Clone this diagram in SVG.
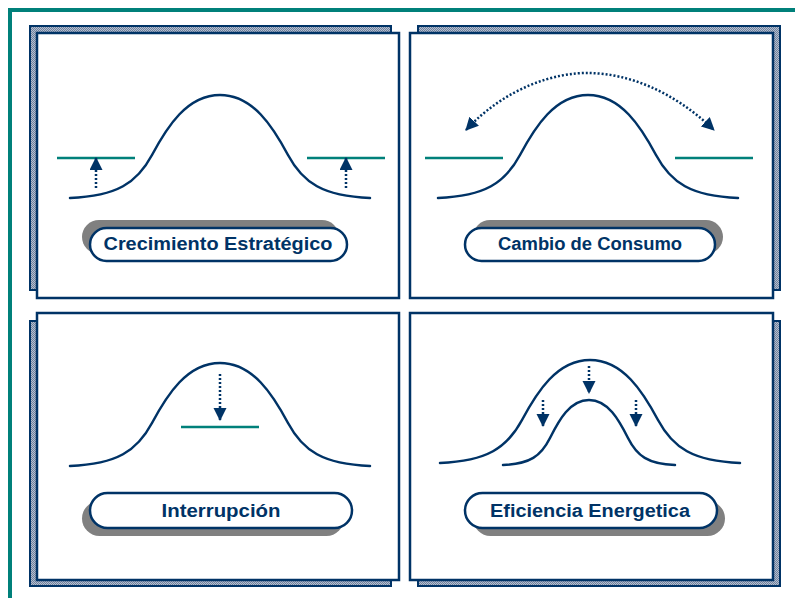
<svg xmlns="http://www.w3.org/2000/svg" width="795" height="598" viewBox="0 0 795 598">
<style>
.frame{fill:none;stroke:#00807A;stroke-width:4}
.shadow{fill:url(#hatch);stroke:#003366;stroke-width:2}
.front{fill:#ffffff;stroke:#003366;stroke-width:2.5}
.curve{fill:none;stroke:#003366;stroke-width:2.5;stroke-linecap:round}
.level{fill:none;stroke:#00807A;stroke-width:2.5}
.dot{fill:none;stroke:#003366;stroke-width:2.5;stroke-dasharray:2 2}
.pillsh{fill:#808080}
.pill{fill:#ffffff;stroke:#003366;stroke-width:2.5}
.lbl{font-family:"Liberation Sans","DejaVu Sans",sans-serif;font-size:18px;font-weight:bold;fill:#003366;text-anchor:middle}
</style>
<defs>
<pattern id="hatch" width="2" height="2" patternUnits="userSpaceOnUse">
<rect width="2" height="2" fill="#b4bfcf"/>
<rect width="1" height="1" fill="#6f819e"/>
<rect x="1" y="1" width="1" height="1" fill="#6f819e"/>
</pattern>
<path id="bell" d="M-150,103 C-103,101 -83,88 -68,60 C-53,32 -33,0 0,0 C33,0 53,32 68,60 C83,88 103,101 150,103"/>
<marker id="ah" markerUnits="userSpaceOnUse" markerWidth="14" markerHeight="14" refX="12" refY="6.5" orient="auto-start-reverse">
<path d="M0,0 L13,6.5 L0,13 z" fill="#003366"/>
</marker>
</defs>
<path class="frame" d="M10,598 L10,10 L795,10"/>

<g id="panel-crecimiento">
<rect class="shadow" x="30" y="26" width="361" height="264"/>
<rect class="front" x="37" y="33" width="362" height="265"/>
<use href="#bell" class="curve" transform="translate(220,95)"/>
<line class="level" x1="57" y1="158" x2="135" y2="158"/>
<line class="level" x1="307" y1="158" x2="385" y2="158"/>
<rect class="pillsh" x="82" y="220" width="257" height="34" rx="17"/>
<rect class="pill" x="90" y="228" width="257" height="33" rx="16.5"/>
<text class="lbl" x="218" y="250" textLength="229" lengthAdjust="spacingAndGlyphs">Crecimiento Estratégico</text>
</g>

<g id="panel-cambio">
<rect class="shadow" x="418" y="26" width="362" height="264"/>
<rect class="front" x="410" y="33" width="363" height="265"/>
<use href="#bell" class="curve" transform="translate(588,95)"/>
<line class="level" x1="425" y1="158" x2="503" y2="158"/>
<line class="level" x1="675" y1="158" x2="753" y2="158"/>
<rect class="pillsh" x="473" y="220" width="250" height="34" rx="17"/>
<rect class="pill" x="465" y="228" width="250" height="33" rx="16.5"/>
<text class="lbl" x="590" y="250" textLength="184" lengthAdjust="spacingAndGlyphs">Cambio de Consumo</text>
</g>

<g id="panel-interrupcion">
<rect class="shadow" x="30" y="321" width="361" height="265"/>
<rect class="front" x="37" y="313" width="362" height="267"/>
<use href="#bell" class="curve" transform="translate(220,363)"/>
<line class="level" x1="181" y1="427" x2="259" y2="427"/>
<rect class="pillsh" x="82" y="501" width="262" height="35" rx="17.5"/>
<rect class="pill" x="90" y="493" width="262" height="35" rx="17.5"/>
<text class="lbl" x="221" y="517" textLength="119" lengthAdjust="spacingAndGlyphs">Interrupción</text>
</g>

<g id="panel-eficiencia">
<rect class="shadow" x="418" y="321" width="362" height="265"/>
<rect class="front" x="410" y="313" width="363" height="267"/>
<use href="#bell" class="curve" transform="translate(590,360)"/>
<path class="curve" d="M503,465 C530,464 541,456 550,438 C559,420 570,400 589,400 C608,400 619,420 628,438 C637,456 648,464 675,465"/>
<rect class="pillsh" x="473" y="501" width="252" height="35" rx="17.5"/>
<rect class="pill" x="465" y="493" width="252" height="35" rx="17.5"/>
<text class="lbl" x="590" y="517" textLength="200" lengthAdjust="spacingAndGlyphs">Eficiencia Energetica</text>
</g>

<g id="connectors">
<path class="dot" d="M96,188 L96,158" marker-end="url(#ah)"/>
<path class="dot" d="M346,188 L346,158" marker-end="url(#ah)"/>
<path class="dot" d="M466,130 C505,88 555,72 590,73 C628,74 672,90 714,130" marker-start="url(#ah)" marker-end="url(#ah)"/>
<path class="dot" d="M220,374 L220,420" marker-end="url(#ah)"/>
<path class="dot" d="M589,366 L589,393" marker-end="url(#ah)"/>
<path class="dot" d="M543,400 L543,426" marker-end="url(#ah)"/>
<path class="dot" d="M636,400 L636,426" marker-end="url(#ah)"/>
</g>
</svg>
